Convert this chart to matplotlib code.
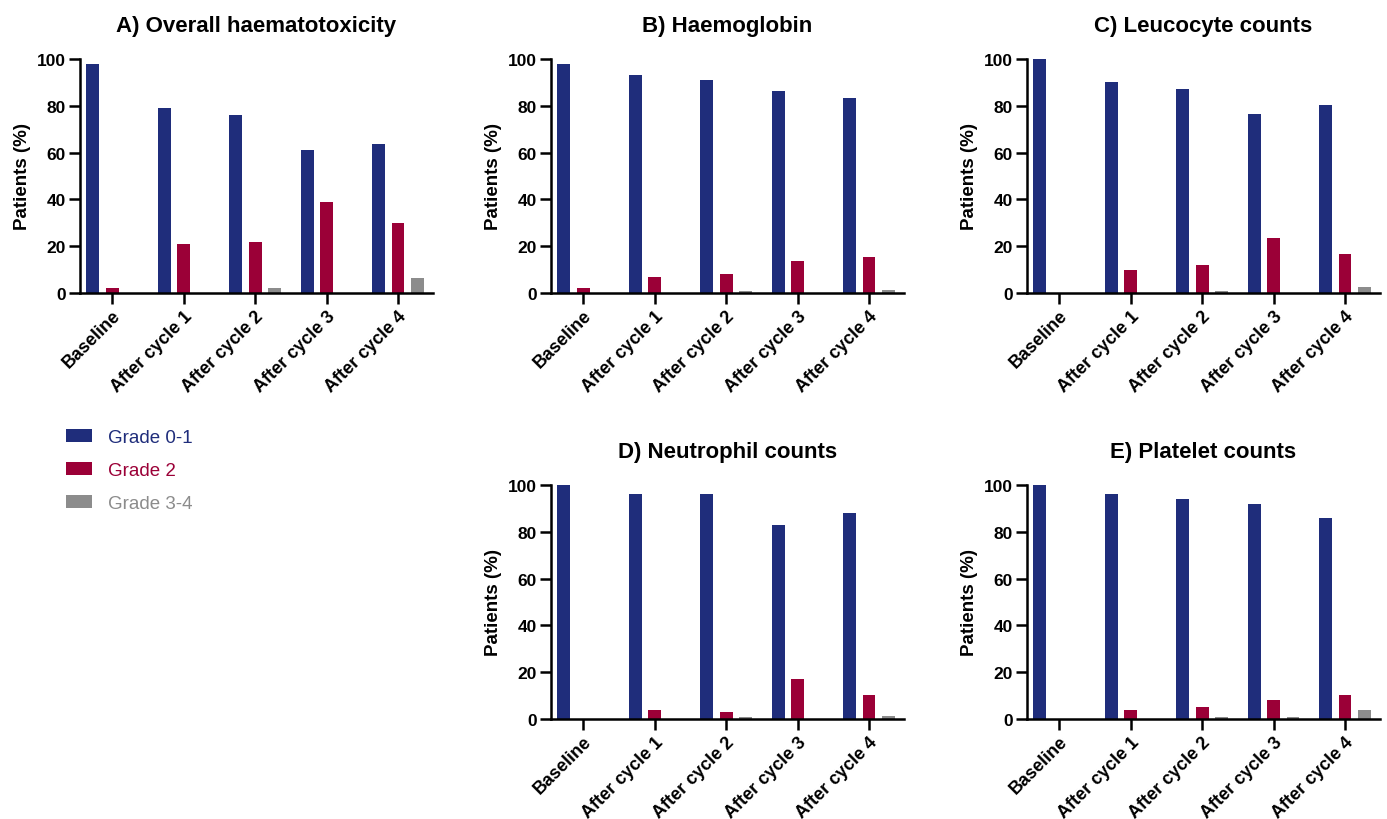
import numpy as np
import matplotlib
matplotlib.use("Agg")
import matplotlib.pyplot as plt
from matplotlib.patches import Patch
from matplotlib.transforms import ScaledTranslation

plt.rcParams['font.family'] = ['Liberation Sans', 'DejaVu Sans']

# Data
categories = ['Baseline', 'After cycle 1', 'After cycle 2', 'After cycle 3', 'After cycle 4']
grade_labels = ['Grade 0-1', 'Grade 2', 'Grade 3-4']
colors = ['#1f2d7b', '#9b0037', '#8c8c8c']

overall_g01 = [98, 79, 76, 61, 63.5]
overall_g2 = [2, 21, 22, 39, 30]
overall_g34 = [0, 0, 2, 0, 6.5]

hb_g01 = [98, 93, 91, 86.5, 83.3]
hb_g2 = [2, 7, 8, 13.5, 15.4]
hb_g34 = [0, 0, 1, 0, 1.3]

leuco_g01 = [100, 90, 87, 76.3, 80.5]
leuco_g2 = [0, 10, 12, 23.5, 16.8]
leuco_g34 = [0, 0, 1, 0, 2.7]

neut_g01 = [100, 96, 96, 83, 88.2]
neut_g2 = [0, 4, 3, 17, 10.4]
neut_g34 = [0, 0, 1, 0, 1.3]

plat_g01 = [100, 96, 94, 92, 85.7]
plat_g2 = [0, 4, 5, 8, 10.4]
plat_g34 = [0, 0, 1, 1, 3.9]

panels = [
    ('A) Overall haematotoxicity', (overall_g01, overall_g2, overall_g34), (80, 60)),
    ('B) Haemoglobin', (hb_g01, hb_g2, hb_g34), (551, 60)),
    ('C) Leucocyte counts', (leuco_g01, leuco_g2, leuco_g34), (1027, 60)),
    ('D) Neutrophil counts', (neut_g01, neut_g2, neut_g34), (551, 486)),
    ('E) Platelet counts', (plat_g01, plat_g2, plat_g34), (1027, 486)),
]

W, H = 1387, 820
AX_W, AX_H = 353, 234

fig = plt.figure(figsize=(W / 100, H / 100), dpi=100)

x = np.arange(len(categories))
bar_w = 0.18
offset = 0.272

for title, series, (left, top) in panels:
    ax = fig.add_axes([left / W, 1 - (top + AX_H) / H, AX_W / W, AX_H / H])
    for i, vals in enumerate(series):
        ax.bar(x + (i - 1) * offset, vals, width=bar_w, color=colors[i], linewidth=0)
    ax.set_xlim(-0.45, 4.49)
    ax.set_ylim(0, 100)
    ax.set_yticks(range(0, 101, 20))
    ax.set_xticks(x)
    ax.set_xticklabels(categories, rotation=45, ha='right', va='top',
                       rotation_mode='anchor', fontsize=13, fontweight='bold')
    shift = ScaledTranslation(0.05, 0, fig.dpi_scale_trans)
    for lbl in ax.get_xticklabels():
        lbl.set_transform(lbl.get_transform() + shift)
    for lbl in ax.get_yticklabels():
        lbl.set_fontsize(12.5)
        lbl.set_fontweight('bold')
    for s in ['top', 'right']:
        ax.spines[s].set_visible(False)
    for s in ['left', 'bottom']:
        ax.spines[s].set_linewidth(1.8)
    ax.tick_params(axis='both', width=1.8, length=8, pad=2)
    ax.set_ylabel('Patients (%)', fontsize=13.5, fontweight='bold')
    ax.yaxis.set_label_coords(-0.14, 0.5)
    ax.set_title(title, fontsize=16, fontweight='bold', pad=20)

handles = [Patch(facecolor=c, edgecolor='none') for c in colors]
leg = fig.legend(handles, grade_labels, loc='upper left',
                 bbox_to_anchor=(66 / W, 1 - 430 / H), frameon=False,
                 fontsize=13.5, handlelength=1.4, handleheight=0.65,
                 handletextpad=0.85, labelspacing=0.85, borderpad=0, borderaxespad=0)
for txt, c in zip(leg.get_texts(), colors):
    txt.set_color(c)

fig.savefig('out.png', dpi=100)
